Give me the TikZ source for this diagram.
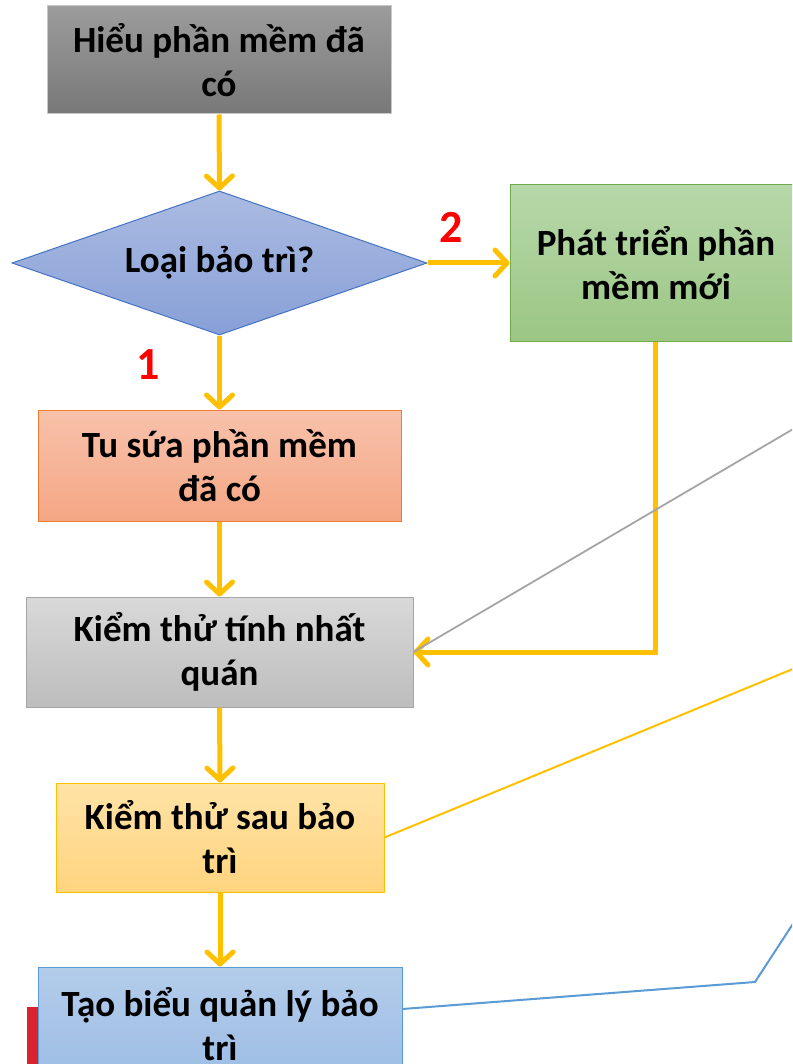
\documentclass[tikz,border=0pt]{standalone}
\usepackage{fontspec}
\setmainfont{Carlito}
\usetikzlibrary{shapes.geometric,arrows.meta,calc}
\definecolor{ylw}{HTML}{FFC000}
\definecolor{bonetop}{HTML}{9C9C9C}
\definecolor{bonebot}{HTML}{787878}
\definecolor{bonedraw}{HTML}{C8C8C8}
\definecolor{diatop}{HTML}{ABBBE2}
\definecolor{diabot}{HTML}{88A0D7}
\definecolor{diadraw}{HTML}{4472C4}
\definecolor{grntop}{HTML}{B7D8AA}
\definecolor{grnbot}{HTML}{9BC684}
\definecolor{grndraw}{HTML}{70AD47}
\definecolor{orgtop}{HTML}{F8C2AB}
\definecolor{orgbot}{HTML}{F4A684}
\definecolor{orgdraw}{HTML}{ED7D31}
\definecolor{grytop}{HTML}{D9D9D9}
\definecolor{grybot}{HTML}{BDBDBD}
\definecolor{grydraw}{HTML}{A5A5A5}
\definecolor{ywtop}{HTML}{FFE3A6}
\definecolor{ywbot}{HTML}{FFD47F}
\definecolor{blutop}{HTML}{B3CCEA}
\definecolor{blubot}{HTML}{9DBDE4}
\definecolor{bludraw}{HTML}{5B9BD5}
\definecolor{redbar}{HTML}{D9232E}
\begin{document}
\begin{tikzpicture}[x=1pt,y=-1pt,
  box/.style={rectangle, inner sep=0pt, align=center, line width=1pt,
    font=\fontsize{37}{44}\selectfont\bfseries, text=black},
  flowarrow/.style={draw=ylw, line width=5pt,
    -{Straight Barb[length=12pt,width=26pt,round]}},
  numlabel/.style={font=\fontsize{46}{50}\selectfont\bfseries, text=red, inner sep=0pt}
]
\useasboundingbox (0,0) rectangle (792,1064);
\clip (0,0) rectangle (792,1064);

% red bar behind the last box
\fill[redbar] (27,1007) rectangle (60,1064);

\node[box, minimum width=344pt, minimum height=108pt,
  top color=bonetop, bottom color=bonebot, draw=bonedraw]
  (understand) at (219,60) {Hiểu phần mềm đã\\có};

\node[diamond, shape aspect=2.88, minimum width=415pt, minimum height=144pt,
  inner sep=0pt, line width=1pt, top color=diatop, bottom color=diabot, draw=diadraw,
  font=\fontsize{37}{44}\selectfont\bfseries]
  (kind) at (219.5,263) {Loại bảo trì?};

% green box runs past the right edge of the picture
\node[box, minimum width=340pt, minimum height=156pt,
  top color=grntop, bottom color=grnbot, draw=grndraw]
  (newsw) at (680,263) {};
\node[box] (newswtext) at (656,263) {Phát triển phần\\mềm mới};
\coordinate (newswout) at ($(newsw.south west)+(146,0)$);

\node[box, minimum width=363pt, minimum height=111pt,
  top color=orgtop, bottom color=orgbot, draw=orgdraw]
  (fix) at (219.5,465.5) {Tu sứa phần mềm\\đã có};

\node[box, minimum width=387pt, minimum height=110pt,
  top color=grytop, bottom color=grybot, draw=grydraw]
  (consist) at (219.5,652) {Kiểm thử tính nhất\\quán};

\node[box, minimum width=328pt, minimum height=109pt,
  top color=ywtop, bottom color=ywbot, draw=ylw]
  (aftertest) at (220,837.5) {Kiểm thử sau bảo\\trì};

\node[box, minimum width=364pt, minimum height=114pt,
  top color=blutop, bottom color=blubot, draw=bludraw]
  (report) at (220,1024) {Tạo biểu quản lý bảo\\trì};

% flow arrows
\draw[flowarrow] (understand.south) -- (kind.north);
\draw[flowarrow] (kind.east) -- (newsw.west);
\draw[flowarrow] (kind.south) -- (fix.north);
\draw[flowarrow] (fix.south) -- (consist.north);
\draw[flowarrow] (consist.south) -- (aftertest.north);
\draw[flowarrow] (aftertest.south) -- (report.north);
\draw[flowarrow] (newswout) |- (consist.east);

\node[numlabel] (lbltwo) at (451,227) {2};
\node[numlabel] (lblone) at (148,365) {1};

% callout lines
\coordinate (grayend) at (800,425);
\coordinate (ylwend) at (800,666);
\coordinate (bluebend) at (755,982);
\coordinate (blueend) at (800,913);
\draw[ylw, line width=2pt] (aftertest.east) -- (ylwend);
\draw[bludraw, line width=2pt] ($(report.east)+(0,-15)$) -- (bluebend) -- (blueend);
\draw[grydraw, line width=1.8pt] (consist.east) -- (grayend);
\end{tikzpicture}
\end{document}
